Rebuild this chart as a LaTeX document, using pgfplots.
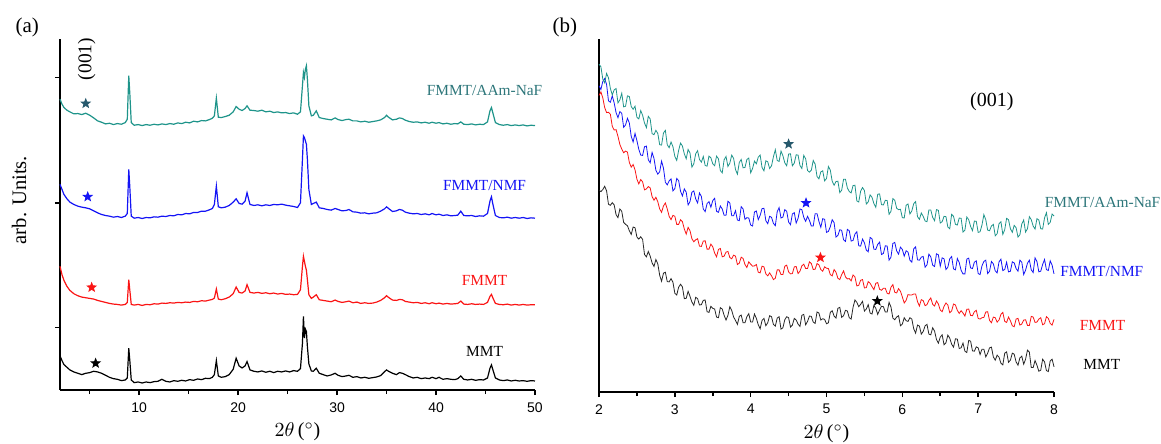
\documentclass[border=0pt]{standalone}
\usepackage{fontspec}
\setmainfont{Liberation Serif}
\newfontfamily\arialfont{Liberation Sans}
\usepackage{pgfplots}
\usepackage{pgfplotstable}
\pgfplotsset{compat=1.18}

\definecolor{tealline}{RGB}{30,148,138}
\definecolor{teallabel}{RGB}{45,118,122}
\definecolor{tealstar}{RGB}{38,88,108}
\definecolor{blueline}{RGB}{20,20,245}
\definecolor{redline}{RGB}{250,20,20}

% filled five point star
\pgfdeclareplotmark{fstar}{%
  \pgfpathmoveto{\pgfpointpolar{90}{\pgfplotmarksize}}%
  \pgfpathlineto{\pgfpointpolar{126}{0.42*\pgfplotmarksize}}%
  \pgfpathlineto{\pgfpointpolar{162}{\pgfplotmarksize}}%
  \pgfpathlineto{\pgfpointpolar{198}{0.42*\pgfplotmarksize}}%
  \pgfpathlineto{\pgfpointpolar{234}{\pgfplotmarksize}}%
  \pgfpathlineto{\pgfpointpolar{270}{0.42*\pgfplotmarksize}}%
  \pgfpathlineto{\pgfpointpolar{306}{\pgfplotmarksize}}%
  \pgfpathlineto{\pgfpointpolar{342}{0.42*\pgfplotmarksize}}%
  \pgfpathlineto{\pgfpointpolar{18}{\pgfplotmarksize}}%
  \pgfpathlineto{\pgfpointpolar{54}{0.42*\pgfplotmarksize}}%
  \pgfpathclose
  \pgfusepathqfillstroke
}

% (a) wide range scans, stacked
\pgfplotstableread{
x mmt fmmt nmf aam
2.0 292 560 805 1060
2.2 278 535 790 1045
2.4 266 518 775 1035
2.7 258 500 762 1027
3.0 250 488 752 1022
3.4 244 478 745 1016
3.8 240 472 740 1017
4.2 236 468 737 1014
4.6 240 466 735 1018
5.0 242 464 732 1012
5.4 246 462 726 1004
5.8 244 458 720 995
6.2 240 455 715 991
6.6 234 452 712 986
7.0 228 449 710 988
7.4 224 447 707 984
7.8 222 446 709 987
8.2 218 444 706 985
8.6 220 446 710 990
8.8 226 452 718 1000
8.95 315 520 850 1130
9.05 280 490 800 1080
9.2 220 446 710 990
9.5 212 444 704 982
9.9 214 446 706 984
10.3 211 443 703 981
10.7 214 446 706 984
11.1 212 445 705 982
11.5 215 448 708 985
11.9 216 447 707 983
12.3 222 450 710 986
12.7 216 449 709 984
13.1 214 451 712 987
13.5 218 450 711 985
13.9 216 452 715 989
14.3 219 451 714 987
14.7 217 453 718 991
15.1 221 452 717 989
15.5 219 455 721 994
15.9 223 454 721 992
16.3 221 457 725 996
16.7 225 456 725 995
17.1 224 459 729 999
17.4 228 461 733 1003
17.6 236 465 745 1010
17.8 278 492 800 1063
18.0 232 462 738 1006
18.3 228 460 735 1005
18.7 230 463 737 1008
19.1 236 468 742 1012
19.5 252 478 752 1022
19.8 285 498 762 1038
20.1 262 482 748 1030
20.4 256 480 746 1026
20.7 262 486 755 1032
20.9 275 505 780 1040
21.2 250 482 745 1027
21.6 246 480 742 1026
22.0 244 482 744 1024
22.4 247 479 741 1027
22.8 243 481 744 1022
23.2 246 478 742 1024
23.6 242 480 745 1020
24.0 246 477 744 1022
24.4 244 479 746 1019
24.8 247 476 743 1020
25.2 244 477 741 1017
25.6 248 475 739 1019
26.0 246 476 736 1015
26.3 254 490 750 1022
26.5 330 560 880 1100
26.6 410 590 950 1140
26.7 345 575 945 1125
26.8 372 560 935 1150
26.9 365 548 925 1160
27.0 320 520 880 1120
27.15 268 475 790 1040
27.4 247 464 745 1010
27.6 246 468 748 1012
27.9 255 475 752 1025
28.2 240 460 735 1005
28.6 236 458 733 1002
29.0 232 456 730 1000
29.4 235 454 728 998
29.8 240 459 733 1004
30.1 234 455 730 999
30.5 230 452 726 996
30.9 232 454 727 999
31.2 234 456 730 1000
31.6 228 451 723 995
32.0 230 453 722 995
32.4 226 449 719 992
32.8 228 451 720 994
33.2 225 449 717 991
33.6 227 450 719 993
34.0 229 453 720 995
34.4 233 458 725 998
34.8 245 466 732 1005
35.0 250 472 738 1012
35.2 246 467 733 1006
35.6 240 459 724 998
36.0 236 458 726 1000
36.3 242 461 730 1004
36.6 240 460 728 1002
36.9 236 455 722 997
37.3 230 453 719 993
37.7 226 451 717 991
38.1 228 452 718 992
38.5 224 449 715 989
38.9 226 451 717 991
39.3 224 448 714 988
39.6 228 451 718 991
40.0 224 448 714 988
40.3 228 450 716 990
40.7 222 447 712 986
41.1 224 449 714 988
41.5 222 447 711 985
41.9 221 448 712 987
42.2 224 449 713 986
42.5 232 456 725 992
42.8 222 447 712 985
43.2 220 446 711 984
43.6 222 448 712 986
44.0 219 446 709 983
44.4 221 447 711 985
44.8 220 446 710 984
45.2 226 452 718 992
45.45 255 470 755 1025
45.6 265 476 768 1035
45.75 250 465 745 1018
46.0 226 449 712 990
46.4 220 446 706 984
46.8 218 445 705 982
47.2 220 447 707 984
47.6 217 444 704 981
48.0 219 446 706 983
48.4 217 444 704 981
48.8 218 446 706 983
49.2 216 444 703 980
49.6 218 445 705 982
50.0 217 445 704 981
}\tblA

% (b) low angle scans
\pgfplotstableread{
x aam nmf fmmt mmt
2.000 980 915 886 603
2.025 972 904 897 599
2.050 935 928 879 605
2.075 924 937 850 615
2.100 952 919 835 601
2.125 939 870 836 561
2.150 907 866 830 558
2.175 888 885 794 566
2.200 903 864 783 559
2.225 907 835 784 530
2.250 864 820 764 521
2.275 873 838 740 547
2.300 893 833 726 540
2.325 852 791 715 507
2.350 854 798 720 501
2.375 885 818 717 497
2.400 883 804 686 482
2.425 853 764 672 471
2.450 845 747 680 493
2.475 854 773 664 491
2.500 821 751 636 463
2.525 816 725 622 457
2.550 841 708 635 464
2.575 827 707 628 456
2.600 804 733 604 411
2.625 790 735 607 404
2.650 824 694 614 420
2.675 816 685 610 406
2.700 772 716 584 386
2.725 769 698 573 375
2.750 782 663 582 396
2.775 773 651 569 383
2.800 739 658 547 349
2.825 738 690 537 331
2.850 774 669 556 355
2.875 782 627 565 358
2.900 739 619 547 330
2.925 730 631 525 329
2.950 747 637 515 339
2.975 733 601 528 328
3.000 704 608 525 295
3.025 692 638 501 290
3.050 722 632 501 313
3.075 744 600 515 322
3.100 735 586 509 314
3.125 712 607 487 279
3.150 697 597 472 280
3.175 725 559 492 301
3.200 714 569 482 286
3.225 672 597 458 269
3.250 682 601 449 259
3.275 712 577 455 283
3.300 721 565 458 279
3.325 695 595 436 260
3.350 687 584 435 261
3.375 704 547 451 274
3.400 677 539 452 275
3.425 675 563 427 240
3.450 705 569 427 238
3.475 700 552 442 256
3.500 682 572 434 250
3.525 676 579 415 248
3.550 705 540 404 224
3.575 697 537 426 222
3.600 662 556 429 252
3.625 655 547 404 248
3.650 694 528 406 229
3.675 704 528 418 215
3.700 674 570 420 229
3.725 684 565 402 255
3.750 708 527 398 244
3.775 698 527 409 224
3.800 665 542 406 214
3.825 651 514 381 202
3.850 686 512 385 226
3.875 695 554 403 230
3.900 670 547 399 207
3.925 671 516 381 207
3.950 695 521 372 225
3.975 699 520 389 234
4.000 655 499 382 209
4.025 668 496 376 209
4.050 690 538 377 233
4.075 682 541 381 220
4.100 702 515 358 201
4.125 708 528 356 189
4.150 671 548 376 214
4.175 661 549 374 220
4.200 691 512 353 198
4.225 688 503 347 207
4.250 668 525 356 228
4.275 676 522 347 225
4.300 703 504 336 202
4.325 724 497 340 197
4.350 692 539 365 221
4.375 689 551 365 225
4.400 720 520 351 188
4.425 706 523 351 192
4.450 685 545 376 216
4.475 676 540 379 225
4.500 711 508 359 222
4.525 712 500 353 194
4.550 676 532 354 200
4.575 684 536 374 220
4.600 709 505 375 215
4.625 708 519 354 203
4.650 677 547 361 196
4.675 668 545 377 229
4.700 707 522 382 232
4.725 697 510 369 201
4.750 662 525 369 211
4.775 657 513 389 227
4.800 663 496 384 226
4.825 692 496 366 209
4.850 681 533 367 205
4.875 644 533 384 239
4.900 637 510 380 236
4.925 658 492 366 215
4.950 661 518 361 219
4.975 631 516 374 217
5.000 638 477 370 204
5.025 674 480 369 207
5.050 663 494 351 238
5.075 630 515 347 243
5.100 618 506 366 227
5.125 629 463 358 221
5.150 630 468 340 250
5.175 596 485 336 253
5.200 603 483 351 223
5.225 636 455 362 228
5.250 636 450 344 244
5.275 610 486 338 242
5.300 599 482 339 222
5.325 595 451 332 218
5.350 617 453 350 253
5.375 618 472 344 275
5.400 571 479 317 268
5.425 568 437 319 255
5.450 600 436 334 262
5.475 611 457 336 271
5.500 602 446 311 242
5.525 562 424 312 248
5.550 568 419 330 261
5.575 589 462 325 236
5.600 582 458 315 233
5.625 563 427 306 259
5.650 552 426 325 250
5.675 591 441 327 232
5.700 592 448 307 245
5.725 560 411 304 256
5.750 559 414 310 255
5.775 573 437 310 239
5.800 572 436 295 239
5.825 531 394 293 268
5.850 540 403 313 254
5.875 578 444 321 221
5.900 573 447 298 216
5.925 549 422 296 224
5.950 545 412 309 228
5.975 546 433 301 198
6.000 521 426 284 203
6.025 520 406 266 222
6.050 558 422 274 213
6.075 562 418 291 211
6.100 532 394 290 222
6.125 541 388 290 218
6.150 563 428 293 189
6.175 569 434 293 176
6.200 524 395 270 200
6.225 516 394 257 197
6.250 535 403 276 173
6.275 525 405 273 181
6.300 511 373 258 198
6.325 509 380 261 202
6.350 544 412 274 173
6.375 544 404 281 171
6.400 522 379 262 192
6.425 512 375 257 182
6.450 545 413 272 157
6.475 543 410 263 146
6.500 505 376 245 164
6.525 509 401 240 171
6.550 525 398 256 141
6.575 524 366 266 147
6.600 493 373 260 170
6.625 488 398 237 161
6.650 531 405 242 143
6.675 525 368 263 134
6.700 501 365 260 159
6.725 499 399 244 158
6.750 520 387 235 130
6.775 519 364 243 132
6.800 478 353 236 146
6.825 484 353 227 122
6.850 523 397 247 118
6.875 515 400 248 154
6.900 495 371 229 152
6.925 482 369 228 123
6.950 511 388 240 122
6.975 510 392 244 135
7.000 477 354 220 132
7.025 479 351 218 112
7.050 499 377 222 128
7.075 530 390 223 128
7.100 515 394 239 105
7.125 484 354 240 116
7.150 482 361 214 132
7.175 496 390 207 134
7.200 501 383 224 105
7.225 467 362 222 95
7.250 473 356 209 110
7.275 503 389 215 104
7.300 509 397 232 86
7.325 471 363 238 81
7.350 485 366 211 116
7.375 519 388 208 120
7.400 515 359 224 89
7.425 488 361 213 95
7.450 477 389 198 116
7.475 498 386 195 113
7.500 491 369 218 90
7.525 463 361 220 80
7.550 470 394 200 102
7.575 502 388 203 107
7.600 514 351 215 83
7.625 478 364 216 98
7.650 488 385 199 125
7.675 524 394 199 119
7.700 515 365 226 73
7.725 496 357 224 73
7.750 487 401 208 94
7.775 518 390 209 80
7.800 514 359 218 62
7.825 488 361 222 65
7.850 487 381 201 98
7.875 520 396 204 90
7.900 536 366 225 64
7.925 501 363 220 61
7.950 507 392 205 93
7.975 532 379 200 98
8.000 526 353 217 75
}\tblB

\pgfplotsset{
  xrdaxis/.style={
    scale only axis,
    anchor=south west,
    axis x line*=bottom, axis y line*=left,
    axis line style={line width=0.9pt},
    tick align=outside,
    major tick length=2.6pt, minor tick length=2pt,
    tick style={line width=0.8pt, black},
    ticklabel style={font=\arialfont\fontsize{7}{8}\selectfont},
    /pgf/number format/assume math mode=true,
    xlabel={$2\theta$\,($^{\circ}$)},
    xlabel style={at={(axis description cs:0.5,0)}, anchor=center, yshift=-21pt,
      font=\fontsize{10}{12}\selectfont},
    clip=false,
  },
}
\tikzset{lbl/.style={font=\fontsize{7.7}{9}\selectfont, anchor=center}}

\begin{document}
\begin{tikzpicture}
\path[use as bounding box] (-30pt,-27pt) rectangle (550.5pt,195pt);

\begin{axis}[xrdaxis, at={(0pt,0pt)},
  width=237.5pt, height=175.5pt,
  xmin=2, xmax=50, ymin=190, ymax=1240,
  xtick={10,20,30,40,50}, minor xtick={5,15,25,35,45},
  ytick={377,750,1125}, yticklabels={,,},
  ylabel={arb. Units.},
  ylabel style={at={(axis description cs:-0.086,0.541)}, anchor=center,
    font=\fontsize{10.3}{12}\selectfont},
]
\addplot[black, line width=0.6pt] table[x=x, y=mmt] {\tblA};
\addplot[redline, line width=0.6pt] table[x=x, y=fmmt] {\tblA};
\addplot[blueline, line width=0.6pt] table[x=x, y=nmf] {\tblA};
\addplot[tealline, line width=0.6pt] table[x=x, y=aam] {\tblA};
\addplot[only marks, mark=fstar, mark size=2.3pt, tealstar] coordinates {(4.6,1047)};
\addplot[only marks, mark=fstar, mark size=2.3pt, blueline] coordinates {(4.8,768)};
\addplot[only marks, mark=fstar, mark size=2.3pt, redline] coordinates {(5.2,497)};
\addplot[only marks, mark=fstar, mark size=2.3pt, black] coordinates {(5.6,270)};
\node[lbl, teallabel] at (axis cs:44.9,1085) {FMMT/AAm-NaF};
\node[lbl, blueline] at (axis cs:44.9,802) {FMMT/NMF};
\node[lbl, redline] at (axis cs:44.9,517) {FMMT};
\node[lbl, black] at (axis cs:44.9,305) {MMT};
\node[rotate=90, font=\fontsize{9.7}{11}\selectfont] at (axis cs:4.7,1180) {(001)};
\node[font=\fontsize{10.5}{12}\selectfont] at (axis description cs:-0.069,1.034) {(a)};
\end{axis}

\begin{axis}[xrdaxis, at={(269.5pt,-1pt)},
  width=227.5pt, height=176.5pt,
  xmin=2, xmax=8, ymin=0, ymax=1055,
  xtick={2,3,4,5,6,7,8}, minor xtick={2.5,3.5,4.5,5.5,6.5,7.5},
  ytick=\empty,
]
\addplot[black!85, line width=0.4pt] table[x=x, y=mmt] {\tblB};
\addplot[redline, line width=0.4pt] table[x=x, y=fmmt] {\tblB};
\addplot[blueline, line width=0.4pt] table[x=x, y=nmf] {\tblB};
\addplot[tealline, line width=0.4pt] table[x=x, y=aam] {\tblB};
\addplot[only marks, mark=fstar, mark size=2.3pt, tealstar] coordinates {(4.5,741)};
\addplot[only marks, mark=fstar, mark size=2.3pt, blueline] coordinates {(4.73,565)};
\addplot[only marks, mark=fstar, mark size=2.3pt, redline] coordinates {(4.92,402)};
\addplot[only marks, mark=fstar, mark size=2.3pt, black] coordinates {(5.67,272)};
\node[lbl, teallabel] at (axis cs:8.64,565) {FMMT/AAm-NaF};
\node[lbl, blueline] at (axis cs:8.63,359) {FMMT/NMF};
\node[lbl, redline] at (axis cs:8.64,200) {FMMT};
\node[lbl, black] at (axis cs:8.63,81) {MMT};
\node[font=\fontsize{10}{12}\selectfont] at (axis cs:7.18,868) {(001)};
\node[font=\fontsize{10.5}{12}\selectfont] at (axis description cs:-0.075,1.034) {(b)};
\end{axis}
\end{tikzpicture}
\end{document}
